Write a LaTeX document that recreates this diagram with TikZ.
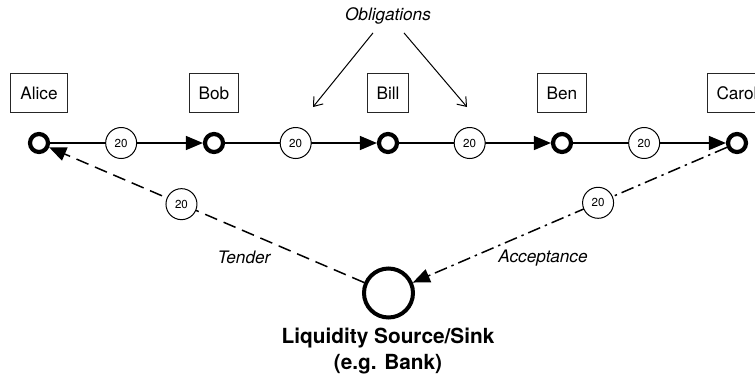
\documentclass[tikz,border=0pt]{standalone}
\usepackage{fontspec}
\setmainfont{TeX Gyre Heros}
\usetikzlibrary{arrows.meta}
\begin{document}
\begin{tikzpicture}[x=0.5pt,y=-0.5pt,
  party/.style={draw=black!85,line width=0.5pt,minimum height=19.5pt,
    inner xsep=4.75pt,inner ysep=0pt,font=\fontsize{8.6}{10}\selectfont},
  hub/.style={circle,draw,solid,line width=2.1pt,minimum size=9pt,inner sep=0pt},
  bankhub/.style={circle,draw,solid,line width=2pt,minimum size=24.5pt,inner sep=0pt},
  val/.style={circle,draw,solid,fill=white,line width=0.5pt,minimum size=15.5pt,
    inner sep=0pt,font=\fontsize{5.8}{7}\selectfont},
  flow/.style={line width=0.75pt,-{Triangle[length=8.5pt,width=7pt]}},
  tenderline/.style={dash pattern=on 6.5pt off 3.5pt},
  acceptline/.style={dash pattern=on 6.5pt off 2.5pt on 1.2pt off 2.5pt},
  obligarrow/.style={line width=0.5pt,-{Straight Barb[length=4pt,width=6pt]}},
  lbl/.style={font=\fontsize{8.6}{10}\selectfont\itshape}
]
\useasboundingbox (0,0) rectangle (755,376);

% participants on the payment chain
\foreach \nm/\txt/\x in {alice/Alice/39, bob/Bob/214, bill/Bill/388,
                         ben/Ben/562, carol/Carol/737} {
  \node[hub] (\nm) at (\x,143) {};
  \node[party] (\nm box) at (\x,93) {\txt};
}

% chain of obligations
\draw[flow] (alice) -- node[val,pos=.465] (v1) {20} (bob);
\draw[flow] (bob)   -- node[val,pos=.465] (v2) {20} (bill);
\draw[flow] (bill)  -- node[val,pos=.465] (v3) {20} (ben);
\draw[flow] (ben)   -- node[val,pos=.465] (v4) {20} (carol);

% obligations label
\node[lbl,anchor=base] (oblig) at (388,20.7) {Obligations};
\coordinate (obl) at (313,107);
\coordinate (obr) at (467,107);
\draw[obligarrow] ([xshift=-7.5pt,yshift=-0.7pt]oblig.south) -- (obl);
\draw[obligarrow] ([xshift=8pt,yshift=-0.7pt]oblig.south) -- (obr);

% liquidity source / sink
\node[bankhub] (bank) at (388.5,293) {};
\node[anchor=north,align=center,font=\fontsize{10.4}{13}\selectfont\bfseries]
  (banktxt) at (388,321) {Liquidity Source/Sink\\(e.g. Bank)};

% tender and acceptance
\draw[flow,tenderline] (bank) -- node[val,pos=.58] (v5) {20} (alice);
\draw[flow,acceptline] (carol) -- node[val,pos=.41] (v6) {20} (bank);
\node[lbl] (tender) at (244,257) {Tender};
\node[lbl] (accept) at (543,258) {Acceptance};
\end{tikzpicture}
\end{document}
